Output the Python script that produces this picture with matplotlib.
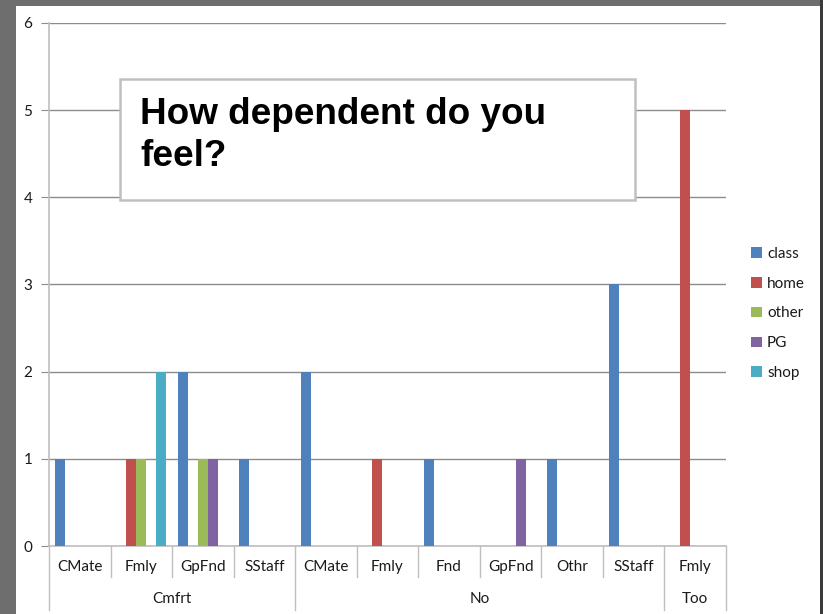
import matplotlib
matplotlib.use('Agg')
import matplotlib.pyplot as plt
from matplotlib.patches import Rectangle
import numpy as np

# ─── Data ────────────────────────────────────────────────────────────────────
SUBCATS = ['CMate', 'Fmly', 'GpFnd', 'SStaff',
           'CMate', 'Fmly', 'Fnd', 'GpFnd', 'Othr', 'SStaff',
           'Fmly']
GROUPS = ['Cmfrt', 'No', 'Too']
GROUP_SIZES = [4, 6, 1]

SERIES = ['class', 'home', 'other', 'PG', 'shop']
CLASS = [1, 0, 2, 1, 2, 0, 1, 0, 1, 3, 0]
HOME  = [0, 1, 0, 0, 0, 1, 0, 0, 0, 0, 5]
OTHER = [0, 1, 1, 0, 0, 0, 0, 0, 0, 0, 0]
PG    = [0, 0, 1, 0, 0, 0, 0, 1, 0, 0, 0]
SHOP  = [0, 2, 0, 0, 0, 0, 0, 0, 0, 0, 0]
VALUES = [CLASS, HOME, OTHER, PG, SHOP]

COLORS = ['#4F81BD', '#C0504D', '#9BBB59', '#8064A2', '#4BACC6']
GRID = '#8c8c8c'
AXIS = '#bfbfbf'
TXT = '#1a1a1a'

W, H = 823, 614
plt.rcParams['font.family'] = ['Lato', 'DejaVu Sans']

fig = plt.figure(figsize=(W / 100, H / 100), dpi=100)
fig.patch.set_facecolor('#6e6e6e')
# white slide area + dark right edge (behind the axes)
fig.patches.append(Rectangle((16 / W, 0), (820 - 16) / W, 1 - 6 / H,
                             transform=fig.transFigure, facecolor='white',
                             edgecolor='none', zorder=-10))
fig.patches.append(Rectangle((820 / W, 0), 3 / W, 1,
                             transform=fig.transFigure, facecolor='#3a3a3a',
                             edgecolor='none', zorder=-10))

x0, x1, yb, yt = 49, 726, 546, 23
ax = fig.add_axes([x0 / W, 1 - yb / H, (x1 - x0) / W, (yb - yt) / H])
ax.set_facecolor('none')

x = np.arange(len(SUBCATS))
bw = 0.1626
bars = []
for j, (name, vals, col) in enumerate(zip(SERIES, VALUES, COLORS)):
    b = ax.bar(x + (j - 2) * bw, vals, width=bw, color=col, label=name,
               zorder=3)
    bars.append(b)

ax.set_xlim(-0.5, len(SUBCATS) - 0.5)
ax.set_ylim(0, 6)
ax.set_yticks(range(7))
ax.yaxis.grid(True, color=GRID, linewidth=1.0, zorder=0)
ax.tick_params(axis='y', length=6, color=GRID, labelsize=11,
               labelcolor=TXT, pad=6)
ax.set_xticks([])
for s in ['top', 'right']:
    ax.spines[s].set_visible(False)
ax.spines['left'].set_color(AXIS)
ax.spines['bottom'].set_color(AXIS)
ax.spines['left'].set_linewidth(1.2)
ax.spines['bottom'].set_linewidth(1.2)

# ─── Two-level category axis ────────────────────────────────────────────────
tr = ax.get_xaxis_transform()
ah = yb - yt
for i, lab in enumerate(SUBCATS):
    ax.text(i, -21 / ah, lab, transform=tr, ha='center', va='center',
            fontsize=11, color=TXT)

edges = np.cumsum([0] + GROUP_SIZES) - 0.5
for k in range(len(SUBCATS) + 1):
    xe = k - 0.5
    full = np.any(np.isclose(edges, xe))
    ybot = -64 / ah if full else -31 / ah
    ax.plot([xe, xe], [0, ybot], transform=tr, color=AXIS, lw=1.0,
            clip_on=False)

for g, (gname, a, b) in enumerate(zip(GROUPS, edges[:-1], edges[1:])):
    ax.text((a + b) / 2, -53 / ah, gname, transform=tr, ha='center',
            va='center', fontsize=11, color=TXT)

# ─── Title box ──────────────────────────────────────────────────────────────
fig.patches.append(Rectangle((120 / W, 1 - 200 / H), (635 - 120) / W,
                             (200 - 79) / H, transform=fig.transFigure,
                             facecolor='white', edgecolor='#c0c0c0',
                             linewidth=1.8, zorder=5))
fig.text(140 / W, 1 - 97 / H, 'How dependent do you\nfeel?',
         ha='left', va='top', fontsize=26.6, fontweight='bold',
         family=['Liberation Sans', 'DejaVu Sans'], color='black',
         linespacing=1.25, zorder=6)

# ─── Legend ─────────────────────────────────────────────────────────────────
leg = fig.legend(handles=bars, labels=SERIES, loc='upper left',
                 bbox_to_anchor=(751 / W, 1 - 247 / H), frameon=False,
                 fontsize=11, handlelength=0.7, handleheight=0.7,
                 handletextpad=0.35, labelspacing=1.03, borderpad=0,
                 borderaxespad=0)
for t in leg.get_texts():
    t.set_color(TXT)

fig.savefig('out.png', dpi=100, facecolor=fig.get_facecolor())
